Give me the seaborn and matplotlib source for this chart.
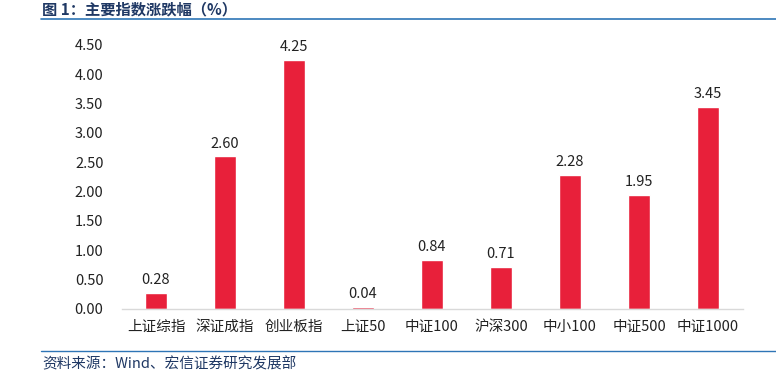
import numpy as np
import pandas as pd
import matplotlib.pyplot as plt
import seaborn as sns
from matplotlib.lines import Line2D

# 数据
categories = ['上证综指', '深证成指', '创业板指', '上证50', '中证100', '沪深300', '中小100', '中证500', '中证1000']
changes = [0.28, 2.60, 4.25, 0.04, 0.84, 0.71, 2.28, 1.95, 3.45]
yticks = [0.0, 0.5, 1.0, 1.5, 2.0, 2.5, 3.0, 3.5, 4.0, 4.5]

sns.set_style('white')
plt.rcParams['font.family'] = ['Noto Sans CJK SC', 'DejaVu Sans']

df = pd.DataFrame({'指数': categories, '涨跌幅': changes})

fig = plt.figure(figsize=(7.76, 3.75), dpi=100)
ax = fig.add_axes([121.5 / 776, 1 - 309 / 375, 621 / 776, 264 / 375])

sns.barplot(data=df, x='指数', y='涨跌幅', color='#E8203A', width=0.32, saturation=1, ax=ax)

ax.set_ylim(0, 4.5)
ax.set_xlim(-0.5, len(categories) - 0.5)
ax.set_yticks(yticks)
ax.set_yticklabels([f'{v:.2f}' for v in yticks], fontsize=10.5, color='#222222')
ax.tick_params(axis='x', labelsize=10.5, colors='#222222', pad=8, length=0)
ax.tick_params(axis='y', length=0, pad=13)
ax.set_xlabel('')
ax.set_ylabel('')

for s in ['top', 'right', 'left']:
    ax.spines[s].set_visible(False)
ax.spines['bottom'].set_color('#D9D9D9')
ax.spines['bottom'].set_linewidth(1)

# 数据标签
for i, v in enumerate(changes):
    ax.text(i, v + 0.1, f'{v:.2f}', ha='center', va='bottom', fontsize=10.5, color='#222222')

# 标题和来源
fig.text(42 / 776, 1 - 17 / 375, '图 1：主要指数涨跌幅（%）', fontsize=11, fontweight='bold',
         color='#1F3864', ha='left', va='bottom')
fig.add_artist(Line2D([41 / 776, 1], [1 - 19 / 375, 1 - 19 / 375], color='#2E75B6', lw=1.2))
fig.add_artist(Line2D([41 / 776, 1], [1 - 351 / 375, 1 - 351 / 375], color='#2E75B6', lw=1))
fig.text(42 / 776, 1 - 364 / 375, '资料来源：Wind、宏信证券研究发展部', fontsize=10.5,
         color='#1F3864', ha='left', va='center')

plt.savefig('out.png', dpi=100)
